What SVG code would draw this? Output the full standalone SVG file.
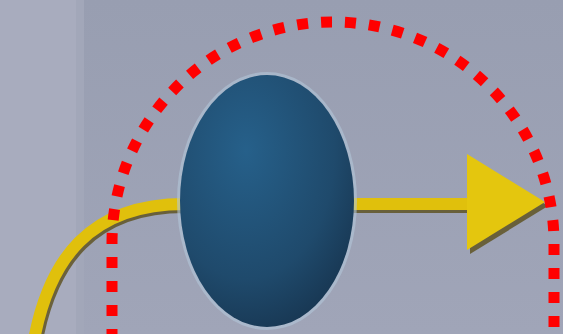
<svg xmlns="http://www.w3.org/2000/svg" width="563" height="334" viewBox="0 0 563 334">
  <style>
    .shaft { fill: none; stroke: #e0c00c; stroke-width: 12; }
    .shadow { fill: none; stroke: #5b4f1c; stroke-width: 12; opacity: 0.8; }
    .dots { fill: none; stroke: #ff0000; stroke-width: 11; stroke-dasharray: 11 13; }
  </style>
  <defs>
    <linearGradient id="bg" x1="0" y1="0" x2="0" y2="1">
      <stop offset="0" stop-color="#989eb1"/>
      <stop offset="1" stop-color="#a0a5b8"/>
    </linearGradient>
    <radialGradient id="ball" cx="0.38" cy="0.3" r="0.85">
      <stop offset="0" stop-color="#26608a"/>
      <stop offset="0.6" stop-color="#1f4a6c"/>
      <stop offset="1" stop-color="#152f48"/>
    </radialGradient>
  </defs>
  <rect width="563" height="334" fill="url(#bg)"/>
  <rect width="76" height="334" fill="#a8acbe"/>
  <rect x="76" width="8" height="334" fill="#a2a7b9"/>

  <g id="connectors">
    <path class="shadow" d="M 37 340 C 52 262 92 207 185 207 L 470 207"/>
    <path class="shaft" d="M 34 340 C 49 260 89 204 185 204 L 470 204"/>
    <polygon points="470,157 548,206 470,254" fill="#5b4f1c" opacity="0.8"/>
    <polygon points="467,154 545,202 467,250" fill="#e4c60e"/>
  </g>

  <g id="node-ellipse">
    <ellipse cx="267" cy="201" rx="90" ry="129" fill="#b3c6d8" opacity="0.6"/>
    <ellipse cx="267" cy="201" rx="87" ry="126" fill="url(#ball)"/>
  </g>

  <g id="boundary">
    <path class="dots" d="M 112 340 L 112 243 A 221 221 0 0 1 554 243 L 554 340"/>
  </g>
</svg>
